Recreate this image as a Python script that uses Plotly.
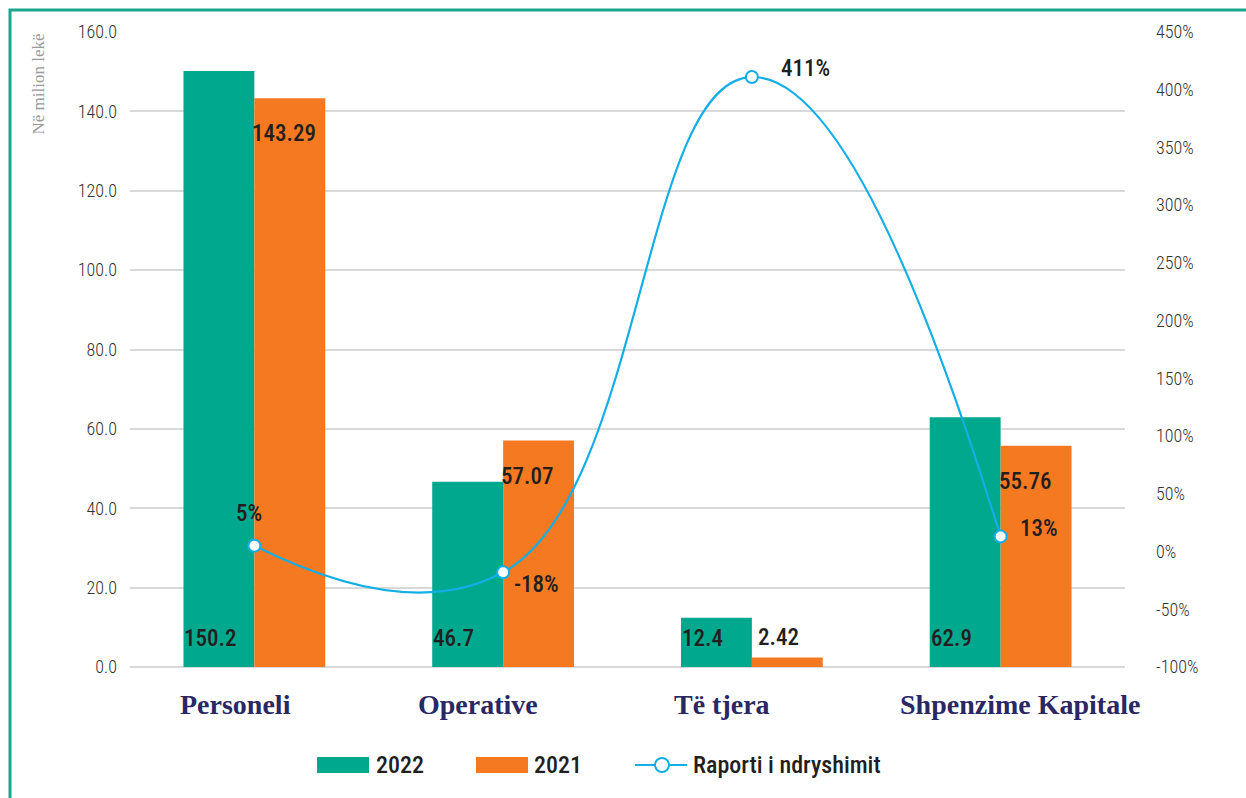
import plotly.graph_objects as go

# Expenditure categories and values (million lek)
categories = ["Personeli", "Operative", "Të tjera", "Shpenzime Kapitale"]
values_2022 = [150.2, 46.7, 12.4, 62.9]
values_2021 = [143.29, 57.07, 2.42, 55.76]
# Change ratio between years (percent)
change_pct = [5, -18, 411, 13]
series_names = ["2022", "2021", "Raporti i ndryshimit"]

left_ticks = [0, 20, 40, 60, 80, 100, 120, 140, 160]
right_ticks = [-100, -50, 0, 50, 100, 150, 200, 250, 300, 350, 400, 450]

TEAL = "#00a88e"
ORANGE = "#f47920"
BLUE = "#14aee6"
DARK = "#231f20"
NAVY = "#2a2862"
NARROW = "Roboto Condensed, Liberation Sans Narrow, Roboto, sans-serif"
SERIF = "Liberation Serif, DejaVu Serif, serif"

W, H = 1246, 798
M_L, M_R, M_T, M_B = 130, 121, 32, 131
PW, PH = W - M_L - M_R, H - M_T - M_B


def px(x):
    """Horizontal pixel position -> paper fraction."""
    return (x - M_L) / PW


def py(y):
    """Vertical pixel position (from top) -> paper fraction."""
    return (H - M_B - y) / PH


fig = go.Figure()
fig.add_trace(go.Bar(x=categories, y=values_2022, name=series_names[0],
                     marker=dict(color=TEAL, line=dict(width=0))))
fig.add_trace(go.Bar(x=categories, y=values_2021, name=series_names[1],
                     marker=dict(color=ORANGE, line=dict(width=0))))
fig.add_trace(go.Scatter(x=categories, y=change_pct, name=series_names[2],
                         yaxis="y2", mode="lines+markers",
                         line=dict(color=BLUE, width=2.2, shape="spline", smoothing=1.3),
                         marker=dict(size=12, color="white",
                                     line=dict(color=BLUE, width=2))))

annotations = []
label_font = dict(family=NARROW, size=23, color=DARK, weight=500)

# 2022 values: at the base of each teal bar
for cat, v in zip(categories, values_2022):
    annotations.append(dict(x=cat, y=0, xref="x", yref="y", text=f"{v:.1f}",
                            showarrow=False, xanchor="left", yanchor="bottom",
                            xshift=-72, yshift=13, font=label_font))

# 2021 values: just inside the top of each orange bar, above it when too short
for cat, v in zip(categories, values_2021):
    small = v < 10
    annotations.append(dict(x=cat, y=v, xref="x", yref="y", text=f"{v:.2f}",
                            showarrow=False, xanchor="left",
                            yanchor="bottom" if small else "top",
                            xshift=4 if small else -4,
                            yshift=4 if small else -20, font=label_font))

# Change ratio labels around the line markers
pct_offsets = [(-5, 32), (33, -12), (54, 9), (38, 8)]
for cat, p, (dx, dy) in zip(categories, change_pct, pct_offsets):
    annotations.append(dict(x=cat, y=p, xref="x", yref="y2", text=f"{p}%",
                            showarrow=False, xanchor="center", yanchor="middle",
                            xshift=dx, yshift=dy, font=label_font))

# Category names below the axis
cat_shifts = [-19, -25, -30, 19]
for cat, dx in zip(categories, cat_shifts):
    annotations.append(dict(x=cat, y=py(704), xref="x", yref="paper", text=cat,
                            showarrow=False, xanchor="center", yanchor="middle",
                            xshift=dx,
                            font=dict(family=SERIF, size=28, color=NAVY,
                                      weight="bold")))

# Vertical unit title
annotations.append(dict(x=px(38), y=1.0, xref="paper", yref="paper",
                        text="Në milion lekë", textangle=-90, showarrow=False,
                        xanchor="center", yanchor="top",
                        font=dict(family=SERIF, size=17, color="#9a9a9a")))

# Legend: wide colour swatches, line sample with a hollow marker
legend_y = 765
legend_font = dict(family=NARROW, size=24, color=DARK, weight=500)
shapes = [dict(type="rect", xref="paper", yref="paper",
               x0=px(10), x1=1.3, y0=-0.4, y1=py(10),
               line=dict(color="#1aa58f", width=3), fillcolor="rgba(0,0,0,0)",
               layer="below")]
for (x0, x1), color in [((317, 369), TEAL), ((476, 528), ORANGE)]:
    shapes.append(dict(type="rect", xref="paper", yref="paper",
                       x0=px(x0), x1=px(x1), y0=py(773), y1=py(757),
                       fillcolor=color, line=dict(width=0)))
shapes.append(dict(type="line", xref="paper", yref="paper",
                   x0=px(635), x1=px(687), y0=py(legend_y), y1=py(legend_y),
                   line=dict(color=BLUE, width=2)))
shapes.append(dict(type="circle", xref="paper", yref="paper",
                   x0=px(655), x1=px(669), y0=py(772), y1=py(758),
                   fillcolor="white", line=dict(color=BLUE, width=2)))
for name, x_text in zip(series_names, [374, 532, 691]):
    annotations.append(dict(x=px(x_text), y=py(legend_y), xref="paper", yref="paper",
                            text=name, showarrow=False, xanchor="left",
                            yanchor="middle", font=legend_font))

fig.update_layout(
    width=W, height=H,
    margin=dict(l=M_L, r=M_R, t=M_T, b=M_B, autoexpand=False),
    paper_bgcolor="white", plot_bgcolor="white",
    barmode="group", bargap=0.43, bargroupgap=0,
    showlegend=False,
    xaxis=dict(range=[-0.5, len(categories) - 0.5], autorange=False,
               showgrid=False, showline=False, ticks="", showticklabels=False,
               automargin=False),
    yaxis=dict(range=[0, 160], tickmode="array", tickvals=left_ticks,
               ticktext=[f"{v:.1f}" for v in left_ticks], automargin=False,
               showgrid=True, gridcolor="#d9d9d9", gridwidth=2,
               zeroline=True, zerolinecolor="#d9d9d9", zerolinewidth=2,
               showline=False, ticks="",
               tickfont=dict(family=NARROW, size=18, color="#333333", weight=300),
               ticklabelstandoff=12),
    yaxis2=dict(range=[-100, 450], tickmode="array", tickvals=right_ticks,
                ticktext=[f"{v}%" for v in right_ticks], automargin=False,
                overlaying="y", side="right", showgrid=False, zeroline=False,
                showline=False, ticks="",
                tickfont=dict(family=NARROW, size=18, color="#333333", weight=300),
                ticklabelstandoff=30),
    annotations=annotations,
    shapes=shapes,
)

fig.write_html("out.html")
